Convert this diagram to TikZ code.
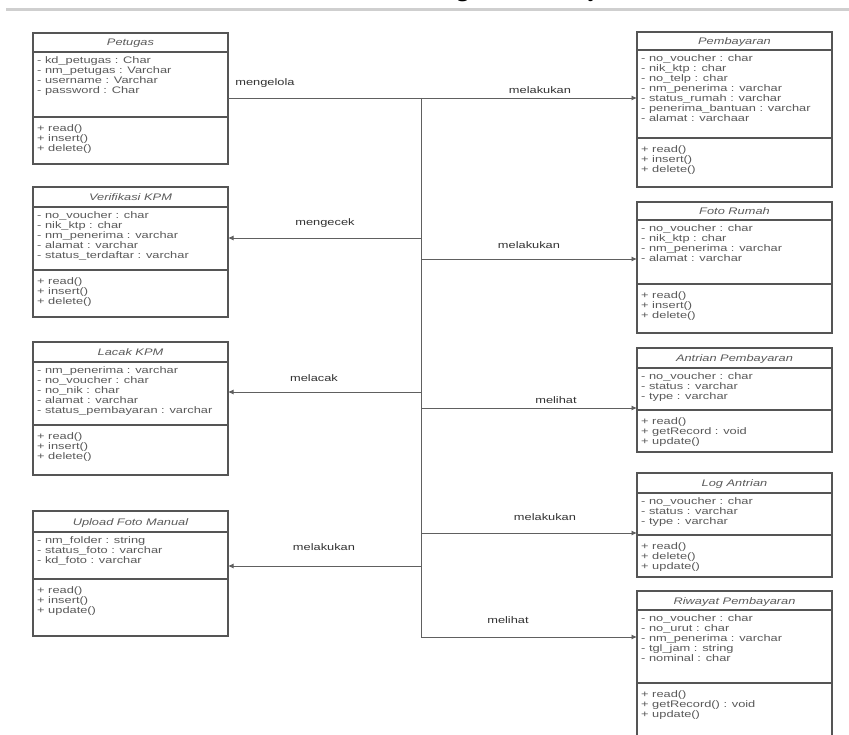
\documentclass[tikz,border=0pt]{standalone}
\usepackage{fontspec}
\usetikzlibrary{arrows.meta}

\newfontfamily\umlfont[FakeStretch=1.35]{Liberation Sans}
\newfontfamily\headfont{Liberation Serif}

\definecolor{boxc}{HTML}{555555}
\definecolor{txtc}{HTML}{5A5A5A}
\definecolor{lblc}{HTML}{333333}
\definecolor{linec}{HTML}{606060}
\definecolor{rulec}{HTML}{CFCFCF}

\tikzset{
  classbox/.style={draw=boxc, line width=1.1pt, anchor=north west,
    minimum width=195pt, inner sep=0pt, outer sep=0pt},
  divider/.style={draw=boxc, line width=1.1pt},
  ctitle/.style={font=\umlfont\fontsize{9.5}{10}\selectfont\itshape,
    text=txtc, inner sep=0pt, anchor=base},
  members/.style={font=\umlfont\fontsize{9.5}{10}\selectfont, text=txtc,
    inner sep=0pt, align=left, anchor=north west,
    execute at begin node=\rule{0pt}{8pt}},
  assoc/.style={draw=linec, line width=0.8pt},
  navarrow/.style={assoc, -{Latex[length=5.5pt,width=5pt]}},
  rel/.style={font=\umlfont\fontsize{9.5}{10}\selectfont, text=lblc, inner sep=0pt},
}

% #1 name, #2 left, #3 top, #4 title divider, #5 operations divider,
% #6 bottom, #7 class name, #8 attributes, #9 operations
\newcommand\umlclass[9]{%
  \node[classbox, minimum height={#6pt-#3pt}] (#1) at (#2,#3) {};
  \draw[divider] (#2,#4) -- ++(195,0);
  \draw[divider] (#2,#5) -- ++(195,0);
  \node[ctitle] (#1-title) at ({#2+97.5},{(#3+#4)/2+3.5}) {#7};
  \node[members] (#1-attr) at ({#2+4},{#4+4}) {#8};
  \node[members] (#1-ops) at ({#2+4},{#5+7}) {#9};
}

\begin{document}
\begin{tikzpicture}[x=1pt, y=-1pt]
  \useasboundingbox (0,0) rectangle (849,735);
  \clip (0,0) rectangle (849,735);
  \fill[white] (0,0) rectangle (849,735);

  % heading above the diagram (its upper part lies above the page) and the rule under it
  \node[font=\headfont\bfseries\fontsize{24}{24}\selectfont, anchor=base west,
        inner sep=0pt] (heading) at (360,-3) {Class Diagram Pembayaran};
  \draw[rulec, line width=3.5pt] (6,9.5) -- (849,9.5);

  % left column
  \umlclass{petugas}{33}{33}{52}{117}{164}{Petugas}
    {- kd\_petugas : Char\\- nm\_petugas : Varchar\\- username : Varchar\\- password : Char}
    {+ read()\\+ insert()\\+ delete()}
  \umlclass{verif}{33}{187}{207}{270}{317}{Verifikasi KPM}
    {- no\_voucher : char\\- nik\_ktp : char\\- nm\_penerima : varchar\\- alamat : varchar\\- status\_terdaftar : varchar}
    {+ read()\\+ insert()\\+ delete()}
  \umlclass{lacak}{33}{342}{362}{425}{475}{Lacak KPM}
    {- nm\_penerima : varchar\\- no\_voucher : char\\- no\_nik : char\\- alamat : varchar\\- status\_pembayaran : varchar}
    {+ read()\\+ insert()\\+ delete()}
  \umlclass{upload}{33}{511}{532}{579}{636}{Upload Foto Manual}
    {- nm\_folder : string\\- status\_foto : varchar\\- kd\_foto : varchar}
    {+ read()\\+ insert()\\+ update()}

  % right column
  \umlclass{pembayaran}{637}{32}{50}{138}{187}{Pembayaran}
    {- no\_voucher : char\\- nik\_ktp : char\\- no\_telp : char\\- nm\_penerima : varchar\\- status\_rumah : varchar\\- penerima\_bantuan : varchar\\- alamat : varchaar}
    {+ read()\\+ insert()\\+ delete()}
  \umlclass{foto}{637}{202}{220}{284}{333}{Foto Rumah}
    {- no\_voucher : char\\- nik\_ktp : char\\- nm\_penerima : varchar\\- alamat : varchar}
    {+ read()\\+ insert()\\+ delete()}
  \umlclass{antrian}{637}{348}{368}{410}{452}{Antrian Pembayaran}
    {- no\_voucher : char\\- status : varchar\\- type : varchar}
    {+ read()\\+ getRecord : void\\+ update()}
  \umlclass{logantrian}{637}{473}{493}{535}{577}{Log Antrian}
    {- no\_voucher : char\\- status : varchar\\- type : varchar}
    {+ read()\\+ delete()\\+ update()}
  \umlclass{riwayat}{637}{591}{610}{683}{745}{Riwayat Pembayaran}
    {- no\_voucher : char\\- no\_urut : char\\- nm\_penerima : varchar\\- tgl\_jam : string\\- nominal : char}
    {+ read()\\+ getRecord() : void\\+ update()}

  % trunk and its junctions
  \coordinate (trunk-top) at (421,98);
  \coordinate (trunk-bot) at (421,637);
  \coordinate (j-verif)   at (421,238);
  \coordinate (j-foto)    at (421,259);
  \coordinate (j-lacak)   at (421,392);
  \coordinate (j-antrian) at (421,408);
  \coordinate (j-log)     at (421,533);
  \coordinate (j-upload)  at (421,566);

  \draw[navarrow] (petugas.east |- trunk-top) -- (pembayaran.west |- trunk-top);
  \draw[assoc] (trunk-top) -- (trunk-bot);
  \draw[navarrow] (j-verif) -- (verif.east |- j-verif);
  \draw[navarrow] (j-foto) -- (foto.west |- j-foto);
  \draw[navarrow] (j-lacak) -- (lacak.east |- j-lacak);
  \draw[navarrow] (j-antrian) -- (antrian.west |- j-antrian);
  \draw[navarrow] (j-log) -- (logantrian.west |- j-log);
  \draw[navarrow] (j-upload) -- (upload.east |- j-upload);
  \draw[navarrow] (trunk-bot) -- (riwayat.west |- trunk-bot);

  % association names
  \node[rel] (l-mengelola) at (265,83)  {mengelola};
  \node[rel] (l-melakukan1) at (540,90) {melakukan};
  \node[rel] (l-mengecek)  at (325,223) {mengecek};
  \node[rel] (l-melakukan2) at (529,245) {melakukan};
  \node[rel] (l-melacak)   at (314,378) {melacak};
  \node[rel] (l-melihat1)  at (556,400) {melihat};
  \node[rel] (l-melakukan3) at (545,517) {melakukan};
  \node[rel] (l-melakukan4) at (324,547) {melakukan};
  \node[rel] (l-melihat2)  at (508,620) {melihat};
\end{tikzpicture}
\end{document}
